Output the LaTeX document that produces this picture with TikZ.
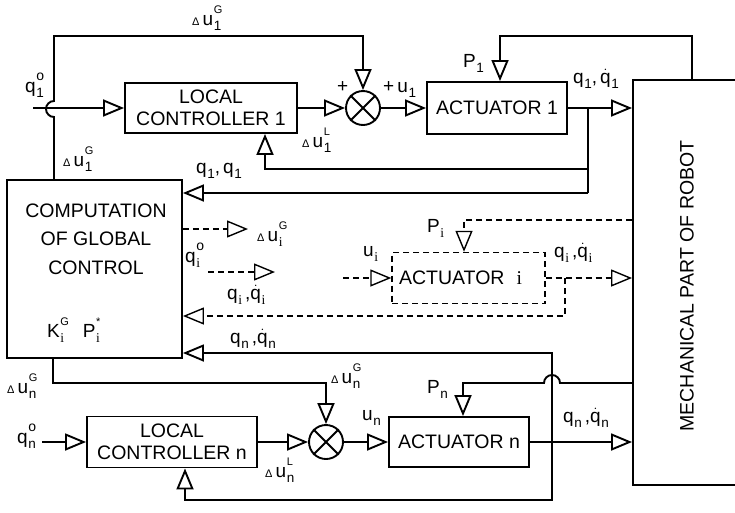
\documentclass[tikz,border=0pt]{standalone}
\usepackage{fontspec}
\setmainfont{Liberation Sans}
\newfontfamily\ifont{Liberation Serif}
\usepackage{amsmath}
\usetikzlibrary{arrows.meta}
% letter with superscript #2 and subscript #3
\newcommand\lbl[3]{#1\kern0.5pt\begingroup%
  \setbox0\hbox{\fontsize{11}{11}\selectfont #2}%
  \setbox2\hbox{\fontsize{13.5}{13.5}\selectfont #3}%
  \ifdim\wd0>\wd2 \rlap{\lower5pt\box2}\raise12pt\box0%
  \else \rlap{\raise12pt\box0}\lower5pt\box2\fi\endgroup}
\newcommand\dq{$\dot{\text{q}}$}
\newcommand\du{{\fontsize{11}{11}\selectfont Δ}\,u}
\newcommand\ii{{\ifont i}}
\newcommand\oo{{\fontsize{14}{14}\selectfont o}}
\tikzset{
  blk/.style={
    draw,
    line width=1.9pt,
    inner sep=0pt,
    align=center,
    font=\fontsize{19.5}{22}\selectfont
  },
  sum/.style={
    draw,
    circle,
    line width=1.9pt,
    minimum size=34pt,
    inner sep=0pt
  },
  lab/.style={inner sep=0pt, anchor=base west, font=\fontsize{19}{22}\selectfont},
  wire/.style={line width=1.9pt},
  dwire/.style={line width=1.4pt, dash pattern=on 6pt off 4pt},
  flow/.style={-{Triangle[open, length=21pt, width=17pt]}, wire},
  dflow/.style={-{Triangle[open, length=21pt, width=17pt]}, dwire}
}

\begin{document}
\begin{tikzpicture}[x=1pt, y=-1pt]
  \useasboundingbox (0,0) rectangle (735,512);

  % blocks
  \node[blk, minimum width=175pt, minimum height=178pt] (comp) at (94.5,269) {};
  \node[lab, anchor=center, align=center, font=\fontsize{19.5}{28.5}\selectfont] (comptxt) at (96,239) {COMPUTATION\\OF GLOBAL\\CONTROL};
  \node[lab] (kp) at (47,337) {\lbl{K}{G}{\ii}\hspace{14pt}\lbl{P}{*}{\ii}};

  \node[blk, minimum width=172pt, minimum height=50pt] (lc1) at (211,108) {LOCAL\\CONTROLLER 1};
  \node[sum] (sum1) at (363,108) {};
  \node[blk, minimum width=140pt, minimum height=52pt] (act1) at (497,108) {ACTUATOR 1};

  \node[blk, dwire, minimum width=153pt, minimum height=51pt] (acti) at (468.5,278) {ACTUATOR\hspace{12pt}\ii\hspace*{16pt}};

  \node[blk, minimum width=170pt, minimum height=51pt] (lcn) at (172,442) {LOCAL\\CONTROLLER n};
  \node[sum] (sumn) at (326,442) {};
  \node[blk, minimum width=140pt, minimum height=50pt] (actn) at (459,442) {ACTUATOR n};

  \node[blk, minimum width=105pt, minimum height=405pt] (robot) at (685.5,282.5) {};
  \node[lab, anchor=center, rotate=90, font=\fontsize{19.5}{22}\selectfont] (robtxt) at (687,286) {MECHANICAL PART OF ROBOT};

  \draw[wire] (sum1.north east) -- (sum1.south west) (sum1.north west) -- (sum1.south east);
  \draw[wire] (sumn.north east) -- (sumn.south west) (sumn.north west) -- (sumn.south east);

  % bends
  \coordinate (q1in) at (33,108);
  \coordinate (g1a) at (54,36);
  \coordinate (f1) at (588,169);
  \coordinate (f1b) at (265,169);
  \coordinate (b1) at (588,108);
  \coordinate (f2) at (588,193);
  \coordinate (p1a) at (692,36);
  \coordinate (p1b) at (500,36);
  \coordinate (dg) at (248,229);
  \coordinate (qia) at (208,272);
  \coordinate (qib) at (275,272);
  \coordinate (uia) at (343,278);
  \coordinate (pia) at (464,220);
  \coordinate (bi) at (565,278);
  \coordinate (bib) at (565,316);
  \coordinate (bn) at (552,442);
  \coordinate (bnt) at (552,353);
  \coordinate (bnb) at (552,500);
  \coordinate (fn) at (185,500);
  \coordinate (pna) at (463,383);
  \coordinate (gna) at (53,383);
  \coordinate (qnin) at (42,442);

  % row 1
  \draw[flow] (q1in) -- (lc1.west);
  \draw[flow] (comp.north -| g1a) -- (54,117) arc[start angle=-90, end angle=-270, radius=8pt] -- (g1a) -| (sum1.north);
  \draw[flow] (lc1.east) -- (sum1.west);
  \draw[flow] (sum1.east) -- (act1.west);
  \draw[flow] (act1.east) -- (act1.east -| robot.west);
  \draw[wire] (b1) -- (f2);
  \draw[flow] (f1) -- (f1b) -- (f1b |- lc1.south);
  \draw[flow] (f2) -- (f2 -| comp.east);
  \draw[flow] (robot.north -| p1a) -- (p1a) -- (p1b) -- (p1b |- act1.north);

  % row i
  \draw[dflow] (dg -| comp.east) -- (dg);
  \draw[dflow] (qia) -- (qib);
  \draw[dflow] (uia) -- (uia -| acti.west);
  \draw[dflow] (pia -| robot.west) -- (pia) -- (pia |- acti.north);
  \draw[dflow] (acti.east) -- (acti.east -| robot.west);
  \draw[dflow] (bi) -- (bib) -- (bib -| comp.east);

  % row n
  \draw[flow] (bn) -- (bnt) -- (bnt -| comp.east);
  \draw[flow] (bn) -- (bnb) -- (fn) -- (fn |- lcn.south);
  \draw[flow] (actn.east) -- (actn.east -| robot.west);
  \draw[flow] (pna -| robot.west) -- (560,383) arc[start angle=0, end angle=180, radius=8pt] -- (pna) -- (pna |- actn.north);
  \draw[flow] (comp.south -| gna) -- (gna) -| (sumn.north);
  \draw[flow] (qnin) -- (lcn.west);
  \draw[flow] (lcn.east) -- (sumn.west);
  \draw[flow] (sumn.east) -- (actn.west);

  % labels
  \node[lab] (l1) at (25,92) {\lbl{q}{\oo}{1}};
  \node[lab] (l2) at (192,25) {\lbl{\du}{G}{1}};
  \node[lab] (l3) at (63,166) {\lbl{\du}{G}{1}};
  \node[lab] (l4) at (337,92) {+};
  \node[lab] (l5) at (383,92) {+\,\lbl{u}{}{1}};
  \node[lab] (l6) at (302,147) {\lbl{\du}{L}{1}};
  \node[lab] (l7) at (463,67) {\lbl{P}{}{1}};
  \node[lab] (l8) at (573,83) {\lbl{q}{}{1},\,\lbl{\dq}{}{1}};
  \node[lab] (l9) at (196,173) {\lbl{q}{}{1},\,\lbl{q}{}{1}};
  \node[lab] (l10) at (257,241) {\lbl{\du}{G}{\ii}};
  \node[lab] (l11) at (185,262) {\lbl{q}{\oo}{\ii}};
  \node[lab] (l12) at (227,299) {\lbl{q}{}{\ii}\,,\lbl{\dq}{}{\ii}};
  \node[lab] (l13) at (363,256) {\lbl{u}{}{\ii}};
  \node[lab] (l14) at (427,232) {\lbl{P}{}{\ii}};
  \node[lab] (l15) at (554,257) {\lbl{q}{}{\ii}\,,\lbl{\dq}{}{\ii}};
  \node[lab] (l16) at (230,343) {\lbl{q}{}{n}\,,\lbl{\dq}{}{n}};
  \node[lab] (l17) at (7,393) {\lbl{\du}{G}{n}};
  \node[lab] (l18) at (331,383) {\lbl{\du}{G}{n}};
  \node[lab] (l19) at (427,393) {\lbl{P}{}{n}};
  \node[lab] (l20) at (362,420) {\lbl{u}{}{n}};
  \node[lab] (l21) at (563,422) {\lbl{q}{}{n}\,,\lbl{\dq}{}{n}};
  \node[lab] (l22) at (17,443) {\lbl{q}{\oo}{n}};
  \node[lab] (l23) at (265,477) {\lbl{\du}{L}{n}};
\end{tikzpicture}
\end{document}
